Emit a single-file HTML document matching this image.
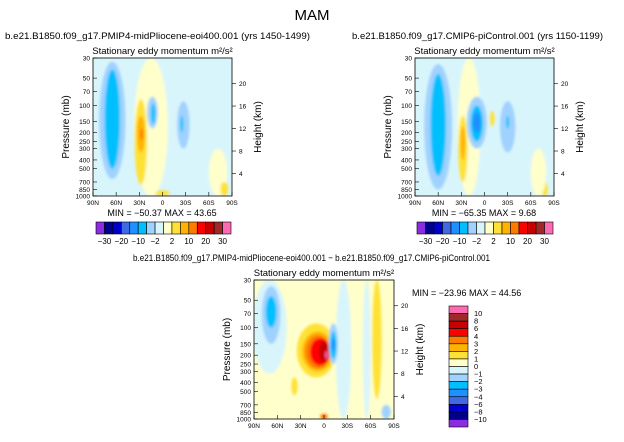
<!DOCTYPE html>
<html><head><meta charset="utf-8">
<style>
body{margin:0;background:#fff;width:624px;height:437px;overflow:hidden}
svg{font-family:"Liberation Sans",sans-serif}
</style></head>
<body>
<svg id="fig" width="624" height="437" viewBox="0 0 624 437">
<defs>
<clipPath id="c1"><rect x="93" y="58" width="139" height="138"/></clipPath>
<clipPath id="c2"><rect x="415" y="58" width="139" height="138"/></clipPath>
<clipPath id="c3"><rect x="254" y="280" width="140" height="139"/></clipPath>
<filter id="sm"><feGaussianBlur stdDeviation="1.2"/></filter>
</defs>
<text x="312" y="20" font-size="15" text-anchor="middle">MAM</text>
<g id="root"></g>
</svg>
<script>
// palette levels: 0 purple ... 7 lightcyan, 8 lightyellow ... 15 pink
const palette=["#8b2be2","#00008b","#0000cd","#4169e1","#1e90ff","#00bfff","#a0d2ff","#d9f5fc","#ffffcc","#ffe135","#ffb300","#ff7a00","#ff0000","#c80000","#a02828","#ff69b4"];
// panel 1 blobs
const p1Lat=[65,65,15,28,28,27,13,12,-27,-25,0,-72,-80];
const p1PTop=[33,40,30,85,130,180,80,95,90,130,860,300,700];
const p1PBot=[650,500,1000,750,330,240,180,160,300,200,1000,1000,1000];
const p1Wid=[17,10,22,8,5,2,7,3,8,2,9,12,5];
const p1Lev=[6,5,8,9,10,11,6,5,6,5,9,8,9];
// panel 2 blobs
const p2Lat=[60,60,20,28,28,10,10,10,-10,-30,-30,-78,-70];
const p2PTop=[35,45,30,130,170,80,100,120,115,90,130,700,300];
const p2PBot=[850,600,1000,700,400,300,250,200,170,330,180,1000,1000];
const p2Wid=[18,10,15,6,3,13,8,5,3,10,2,4,10];
const p2Lev=[6,5,8,9,10,6,5,4,9,6,5,9,8];
// difference panel blobs
const p3Lat=[70,-25,-55,68,68,10,8,8,5,0,-3,-12,-12,-12,-68,38,0,-80];
const p3PTop=[30,30,30,35,45,90,110,120,130,140,180,90,110,130,30,350,880,700];
const p3PBot=[320,1000,1000,150,100,350,300,280,260,240,220,250,220,180,600,550,1000,1000];
const p3Wid=[22,10,5,12,7,25,20,16,13,6,1.5,6,4,2,6,4,5,6];
const p3Lev=[7,7,7,6,5,9,10,11,12,13,15,6,5,4,9,9,11,6];
const pTicks=[30,50,70,100,150,200,250,300,400,500,700,850,1000];
const latTicks=[90,60,30,0,-30,-60,-90];
const latLabels=["90N","60N","30N","0","30S","60S","90S"];
const zTicks=[4,8,12,16,20];
const cbTop=["-30","-20","-10","-2","2","10","20","30"];
const cbSide=["10","8","6","4","3","2","1","0","\u22121","\u22122","\u22123","\u22124","\u22126","\u22128","\u221210"];

const NS="http://www.w3.org/2000/svg";
const root=document.getElementById('root');
function mk(t,a,par){const e=document.createElementNS(NS,t);for(const k in a)e.setAttribute(k,a[k]);(par||root).appendChild(e);return e;}
function txt(x,y,s,fs,anchor,par){const e=mk('text',{x:x,y:y,'font-size':fs,'text-anchor':anchor||'middle'},par);e.textContent=s;return e;}

function panel(id,x0,y0,w,h,bg,lat,pt,pb,wd,lv,clip,title,tx,tlen){
  const xs=l=>x0+(90-l)/180*w;
  const ys=p=>y0+h-Math.log(1000/p)/Math.log(1000/30)*h;
  const g=mk('g',{});
  
  
  const t=txt(tx,y0-19,title,9.5,'start',g);
  t.setAttribute('textLength',tlen);
  t.setAttribute('lengthAdjust','spacingAndGlyphs');
  
  
  const st=txt(x0+w/2,y0-4,"Stationary eddy momentum  m\u00b2/s\u00b2",9.5,'middle',g);
  
  
  const pg=mk('g',{'clip-path':'url(#'+clip+')'},g);
  mk('rect',{x:x0,y:y0,width:w,height:h,fill:bg},pg);
  const fg=mk('g',{filter:'url(#sm)'},pg);
  for(let i=0;i<lat.length;i++){
    const cx=xs(lat[i]),rx=Math.abs(xs(lat[i]+wd[i])-cx);
    const yt=ys(pt[i]),yb=ys(pb[i]);
    const e=mk('ellipse',{cx:cx,cy:(yt+yb)/2,rx:rx,ry:(yb-yt)/2,fill:palette[lv[i]]},fg);
    
    
  }
  mk('rect',{x:x0,y:y0,width:w,height:h,fill:'none',stroke:'#000','stroke-width':0.8},g);
  for(const p of pTicks){const y=ys(p);mk('line',{x1:x0,x2:x0+4,y1:y,y2:y,stroke:'#000','stroke-width':0.6},g);
    const l=txt(x0-3,y+2.5,String(p),6.5,'end',g);}
  latTicks.forEach((l,i)=>{const x=xs(l);mk('line',{x1:x,x2:x,y1:y0+h,y2:y0+h-4,stroke:'#000','stroke-width':0.6},g);
    const tl=txt(x,y0+h+9,latLabels[i],6.5,'middle',g);});
  for(const z of zTicks){const y=ys(1000*Math.exp(-z/7));mk('line',{x1:x0+w,x2:x0+w+4,y1:y,y2:y,stroke:'#000','stroke-width':0.6},g);
    const l=txt(x0+w+7,y+2.5,String(z),6.5,'start',g);}
  const ya=txt(0,0,"Pressure (mb)",10,'middle',g);ya.setAttribute('transform','translate('+(x0-24)+','+(y0+h/2)+') rotate(-90)');
  
  const za=txt(0,0,"Height (km)",10,'middle',g);za.setAttribute('transform','translate('+(x0+w+29)+','+(y0+h/2)+') rotate(-90)');
  
  return g;
}
function hbar(x0,y0,w,h){
  const bw=w/16;
  const cb=mk('g',{});
  for(let i=0;i<16;i++)mk('rect',{x:x0+i*bw,y:y0,width:bw,height:h,fill:palette[i],stroke:'#000','stroke-width':0.6},cb);
  cbTop.forEach((s,i)=>{const l=txt(x0+(2*i+1)*bw,y0+h+10,s.replace('-','\u2212'),8,'middle',cb);});
}
panel('panel-pliocene',93,58,139,138,palette[7],p1Lat,p1PTop,p1PBot,p1Wid,p1Lev,'c1',"b.e21.B1850.f09_g17.PMIP4-midPliocene-eoi400.001 (yrs 1450-1499)",5,305);
panel('panel-picontrol',415,58,139,138,palette[7],p2Lat,p2PTop,p2PBot,p2Wid,p2Lev,'c2',"b.e21.B1850.f09_g17.CMIP6-piControl.001 (yrs 1150-1199)",352,251);
panel('panel-diff',254,280,140,139,palette[8],p3Lat,p3PTop,p3PBot,p3Wid,p3Lev,'c3',"b.e21.B1850.f09_g17.PMIP4-midPliocene-eoi400.001 \u2212 b.e21.B1850.f09_g17.CMIP6-piControl.001",133,357);
const m1=txt(162,216,"MIN = \u221250.37   MAX =  43.65",9,'middle');
const m2=txt(484,216,"MIN = \u221265.35   MAX =    9.68",9,'middle');
const m3=txt(412,296,"MIN = \u221223.96   MAX = 44.56",9,'start');
hbar(96,222,135,12);hbar(417,222,136,12);
// vertical colorbar
const vb=mk('g',{});
const vh=121/16;
for(let i=0;i<16;i++)mk('rect',{x:449,y:306+i*vh,width:19,height:vh,fill:palette[15-i],stroke:'#000','stroke-width':0.6},vb);
cbSide.forEach((s,i)=>{const l=txt(474,306+(i+1)*vh+2.5,s,7.5,'start',vb);});
</script>
</body></html>
